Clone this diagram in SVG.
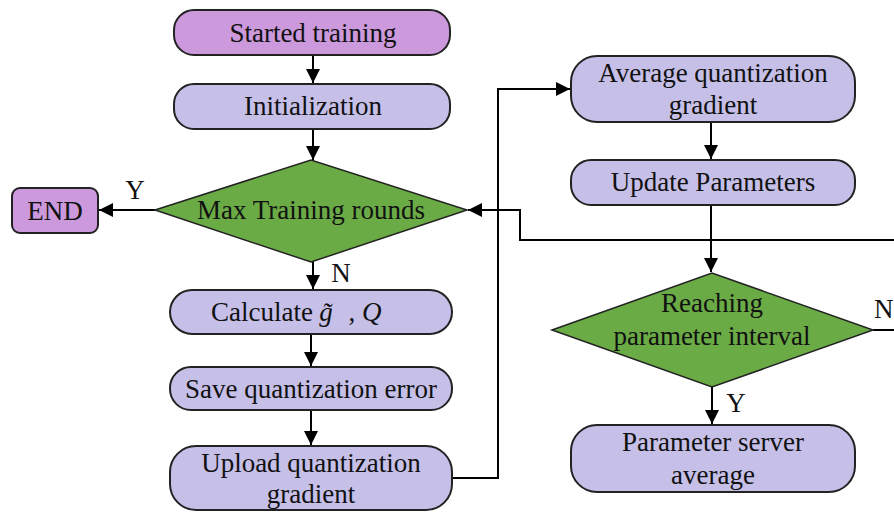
<svg xmlns="http://www.w3.org/2000/svg" width="894" height="512" viewBox="0 0 894 512">
<defs>
<marker id="ah" viewBox="0 0 10 10" refX="10" refY="5" markerWidth="14" markerHeight="14" markerUnits="userSpaceOnUse" orient="auto">
<path d="M0,0 L10,5 L0,10 z" fill="#000"/>
</marker>
<style>
.pk{fill:#cc99dd;stroke:#222;stroke-width:2}
.lv{fill:#c6c0e9;stroke:#222;stroke-width:2}
.gr{fill:#6aab46;stroke:#222;stroke-width:1.5}
text{font-family:"Liberation Serif","Times New Roman",serif;font-size:27px;fill:#111;text-anchor:middle}
.c{fill:none;stroke:#000;stroke-width:2}
</style>
</defs>
<rect width="894" height="512" fill="#fff"/>
<g id="connectors">
<line class="c" x1="313" y1="55" x2="313" y2="83" marker-end="url(#ah)"/>
<line class="c" x1="313" y1="129" x2="313" y2="160" marker-end="url(#ah)"/>
<line class="c" x1="155" y1="210" x2="99" y2="210" marker-end="url(#ah)"/>
<line class="c" x1="313" y1="262" x2="313" y2="289" marker-end="url(#ah)"/>
<line class="c" x1="311" y1="334" x2="311" y2="366" marker-end="url(#ah)"/>
<line class="c" x1="311" y1="410" x2="311" y2="445" marker-end="url(#ah)"/>
<polyline class="c" points="452,478 498,478 498,89 570,89" marker-end="url(#ah)"/>
<line class="c" x1="711" y1="122" x2="711" y2="159" marker-end="url(#ah)"/>
<line class="c" x1="711" y1="205" x2="711" y2="272" marker-end="url(#ah)"/>
<polyline class="c" points="894,240 520,240 520,210 468,210" marker-end="url(#ah)"/>
<line class="c" x1="873" y1="330" x2="894" y2="330"/>
<line class="c" x1="712" y1="387" x2="712" y2="424" marker-end="url(#ah)"/>
<text x="135" y="199">Y</text>
<text x="341" y="282">N</text>
<text x="736" y="412">Y</text>
<text x="874" y="318" style="text-anchor:start">N</text>
</g>
<g id="start"><rect class="pk" x="174" y="10" width="276" height="45" rx="20"/><text x="313" y="42">Started training</text></g>
<g id="init"><rect class="lv" x="174" y="84" width="276" height="45" rx="20"/><text x="313" y="115">Initialization</text></g>
<g id="maxrounds"><polygon class="gr" points="155,210 311,160 467,210 311,262"/><text x="311" y="219">Max Training rounds</text></g>
<g id="end"><rect class="pk" x="12" y="188" width="86" height="45" rx="8"/><text x="55" y="220">END</text></g>
<g id="calc"><rect class="lv" x="170" y="290" width="282" height="44" rx="22"/>
<text x="262" y="321" font-size="25">Calculate</text>
<text x="326" y="321" font-size="25" font-style="italic">g&#x303;</text>
<text x="365" y="321" font-size="25">, <tspan font-style="italic">Q</tspan></text></g>
<g id="save"><rect class="lv" x="170" y="367" width="282" height="43" rx="21"/><text x="311" y="398">Save quantization error</text></g>
<g id="upload"><rect class="lv" x="170" y="446" width="282" height="64" rx="26"/><text x="311" y="472">Upload quantization</text><text x="311" y="503">gradient</text></g>
<g id="avg"><rect class="lv" x="571" y="56" width="284" height="66" rx="26"/><text x="713" y="82">Average quantization</text><text x="713" y="114">gradient</text></g>
<g id="update"><rect class="lv" x="571" y="160" width="284" height="45" rx="20"/><text x="713" y="191">Update Parameters</text></g>
<g id="reaching"><polygon class="gr" points="552,330 712,273 873,330 712,387"/><text x="712" y="312">Reaching</text><text x="712" y="345">parameter interval</text></g>
<g id="server"><rect class="lv" x="571" y="425" width="284" height="67" rx="26"/><text x="713" y="451">Parameter server</text><text x="713" y="484">average</text></g>
</svg>
